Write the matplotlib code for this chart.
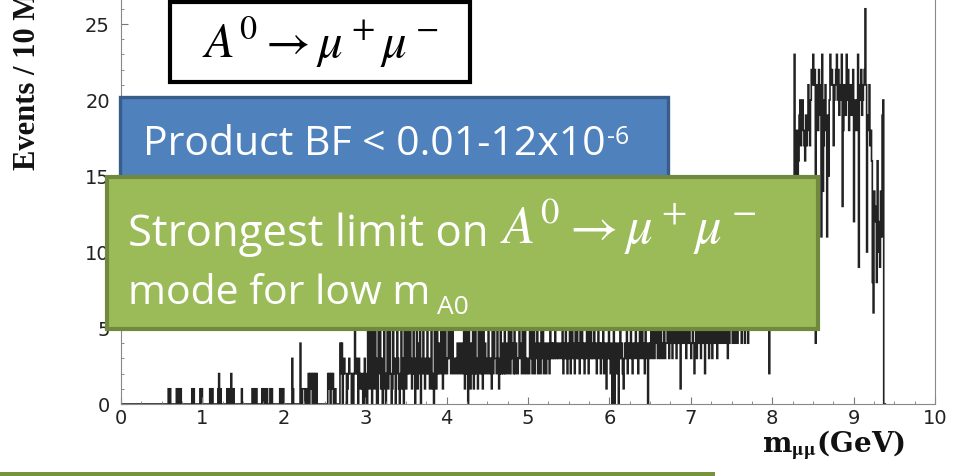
import numpy as np
import matplotlib
matplotlib.use("Agg")
import matplotlib.pyplot as plt
from matplotlib.patches import Rectangle
from matplotlib.text import Annotation
from matplotlib.ticker import MultipleLocator

# events per 10 MeV bin, one row = 100 MeV, first row starts at 0.0 GeV
events_rows = [
    [0, 0, 0, 0, 0, 0, 0, 0, 0, 0],   # 0.0
    [0, 0, 0, 0, 0, 0, 0, 0, 0, 0],
    [0, 0, 0, 0, 0, 0, 0, 0, 0, 0],
    [0, 0, 0, 0, 0, 0, 0, 0, 0, 0],
    [0, 0, 0, 0, 0, 0, 0, 0, 0, 0],
    [0, 0, 0, 0, 0, 0, 0, 0, 1, 0],   # 0.5
    [1, 0, 0, 0, 0, 0, 0, 0, 1, 1],
    [0, 1, 0, 1, 0, 0, 0, 0, 0, 0],
    [0, 0, 0, 0, 0, 0, 0, 1, 0, 1],
    [0, 0, 0, 0, 0, 0, 0, 1, 0, 1],
    [0, 0, 0, 0, 0, 0, 0, 0, 0, 1],   # 1.0
    [1, 0, 1, 0, 0, 0, 0, 0, 0, 1],
    [2, 0, 1, 0, 0, 0, 0, 0, 0, 0],
    [1, 0, 1, 0, 0, 2, 0, 1, 1, 0],
    [0, 0, 0, 0, 0, 0, 0, 0, 1, 0],
    [0, 0, 0, 0, 0, 0, 0, 0, 0, 0],   # 1.5
    [0, 1, 0, 1, 0, 0, 1, 0, 0, 0],
    [0, 0, 0, 1, 0, 1, 1, 0, 0, 1],
    [0, 0, 0, 1, 0, 1, 0, 0, 0, 0],
    [0, 0, 0, 0, 0, 1, 0, 1, 0, 1],
    [0, 0, 0, 0, 0, 0, 0, 0, 0, 0],   # 2.0
    [3, 1, 0, 0, 0, 0, 0, 0, 0, 0],
    [4, 0, 0, 1, 1, 1, 0, 1, 0, 0],
    [2, 0, 2, 1, 2, 0, 2, 0, 2, 0],
    [2, 0, 0, 0, 0, 0, 0, 0, 0, 0],
    [0, 0, 0, 0, 2, 1, 2, 0, 2, 1],   # 2.5
    [2, 0, 1, 1, 0, 0, 0, 0, 0, 4],
    [2, 4, 0, 2, 3, 2, 2, 0, 1, 2],
    [3, 2, 2, 0, 2, 0, 2, 6, 2, 3],
    [2, 0, 3, 2, 1, 2, 1, 0, 2, 3],
    [0, 2, 0, 5, 2, 1, 6, 2, 0, 5],   # 3.0
    [2, 1, 6, 3, 0, 0, 5, 2, 6, 1],
    [3, 0, 1, 6, 2, 0, 2, 5, 1, 2],
    [6, 2, 0, 1, 6, 2, 3, 0, 2, 6],
    [3, 1, 0, 2, 6, 1, 3, 0, 5, 2],
    [1, 5, 2, 6, 2, 6, 3, 1, 2, 5],   # 3.5
    [2, 0, 3, 6, 1, 4, 2, 5, 0, 2],
    [3, 6, 2, 1, 3, 2, 6, 2, 3, 1],
    [2, 5, 1, 2, 0, 6, 2, 1, 5, 2],
    [4, 2, 3, 6, 2, 1, 5, 2, 6, 3],
    [2, 3, 5, 3, 6, 2, 3, 6, 2, 3],   # 4.0
    [3, 2, 3, 4, 2, 3, 4, 2, 3, 4],
    [2, 6, 1, 2, 5, 2, 0, 6, 2, 1],
    [4, 2, 6, 1, 2, 5, 2, 3, 1, 6],
    [3, 2, 5, 2, 1, 6, 2, 4, 3, 2],
    [2, 6, 3, 2, 3, 1, 5, 2, 6, 3],   # 4.5
    [3, 2, 6, 3, 1, 2, 5, 2, 4, 2],
    [2, 5, 2, 4, 3, 2, 6, 3, 2, 6],
    [3, 4, 2, 6, 2, 4, 3, 2, 3, 5],
    [4, 3, 2, 5, 3, 2, 6, 3, 2, 3],
    [3, 2, 6, 3, 5, 2, 3, 6, 2, 3],   # 5.0
    [4, 6, 2, 4, 3, 2, 5, 3, 6, 2],
    [3, 4, 2, 3, 4, 3, 2, 5, 3, 4],
    [3, 4, 3, 5, 3, 3, 4, 3, 3, 4],
    [4, 3, 5, 2, 4, 3, 6, 3, 2, 4],
    [3, 6, 2, 3, 5, 4, 3, 2, 6, 3],   # 5.5
    [5, 3, 4, 2, 6, 3, 5, 4, 3, 2],
    [4, 3, 5, 4, 2, 6, 3, 5, 3, 4],
    [3, 5, 4, 3, 2, 4, 6, 3, 4, 2],
    [4, 3, 5, 2, 4, 3, 1, 4, 3, 5],
    [3, 2, 4, 0, 3, 5, 0, 4, 3, 2],   # 6.0
    [4, 0, 3, 5, 3, 4, 2, 1, 3, 4],
    [3, 5, 2, 4, 3, 4, 5, 3, 2, 4],
    [4, 3, 5, 4, 3, 2, 4, 5, 3, 4],
    [5, 3, 4, 2, 5, 4, 3, 0, 4, 3],
    [4, 5, 3, 4, 5, 3, 4, 5, 4, 3],   # 6.5
    [5, 4, 3, 5, 4, 3, 4, 5, 3, 4],
    [4, 5, 4, 3, 5, 4, 5, 3, 4, 5],
    [5, 4, 3, 5, 4, 5, 4, 1, 5, 4],
    [4, 5, 4, 5, 3, 4, 5, 4, 5, 4],
    [3, 4, 5, 4, 2, 4, 5, 3, 5, 4],   # 7.0
    [5, 4, 3, 5, 4, 5, 4, 2, 5, 4],
    [4, 5, 3, 4, 5, 4, 3, 5, 4, 5],
    [5, 4, 3, 5, 5, 4, 5, 4, 5, 5],
    [4, 5, 5, 4, 5, 3, 5, 4, 5, 5],
    [5, 4, 5, 5, 4, 5, 5, 4, 5, 5],   # 7.5
    [5, 5, 4, 5, 5, 5, 4, 5, 5, 5],
    [4, 5, 5, 5, 5, 6, 5, 5, 6, 5],
    [6, 5, 6, 5, 6, 6, 5, 6, 6, 7],
    [6, 7, 6, 7, 6, 7, 2, 6, 7, 8],
    [7, 8, 7, 8, 9, 8, 9, 8, 9, 10],  # 8.0
    [9, 10, 9, 11, 10, 11, 10, 12, 11, 12],
    [11, 12, 13, 12, 14, 13, 12, 23, 14, 16],
    [18, 15, 16, 19, 20, 17, 19, 20, 18, 17],
    [16, 19, 17, 18, 21, 19, 17, 20, 22, 21],
    [23, 21, 22, 4, 21, 20, 18, 22, 21, 19],  # 8.5
    [11, 23, 14, 17, 20, 21, 18, 11, 19, 15],
    [20, 23, 21, 22, 21, 17, 20, 21, 22, 23],
    [20, 22, 19, 21, 20, 23, 13, 18, 21, 21],
    [19, 23, 20, 22, 18, 21, 20, 19, 21, 22],
    [12, 20, 19, 18, 20, 23, 9, 21, 20, 22],  # 9.0
    [19, 20, 21, 22, 26, 21, 10, 19, 18, 21],
    [17, 18, 16, 8, 6, 14, 13, 12, 8, 16],
    [12, 10, 9, 14, 11, 19, 20, 0, 0, 0],
]
events = np.array([v for row in events_rows for v in row])
bin_edges = np.linspace(0.0, 0.01 * len(events), len(events) + 1)

x_major = 1
x_minor = 0.25
y_major = 5
y_minor = 1

y_label = "Events / 10 MeV"
x_label = r"m$_{\mathbf{\mu\mu}}$(GeV)"
decay_formula = r"$A^0 \rightarrow \mu^+\mu^-$"
bf_text = "Product BF < 0.01-12x10"
bf_exp = "-6"
limit_line1 = "Strongest limit on "
limit_line2 = "mode for low m"
limit_sub = "A0"

W, H = 961, 477
plt.rcParams["mathtext.fontset"] = "stix"


def fx(x):
    return x / W


def fy(y):
    return 1 - y / H


fig = plt.figure(figsize=(W / 100, H / 100), dpi=100)
ax = fig.add_axes([fx(121), fy(405), fx(935) - fx(121), fy(0) - fy(405)])

ax.stairs(events, bin_edges, color="#222222", lw=1.2)

ax.set_xlim(0, 10)
ax.set_ylim(0, 405 / 15.2)
ax.xaxis.set_major_locator(MultipleLocator(x_major))
ax.xaxis.set_minor_locator(MultipleLocator(x_minor))
ax.yaxis.set_major_locator(MultipleLocator(y_major))
ax.yaxis.set_minor_locator(MultipleLocator(y_minor))
ax.set_yticks([0, 5, 10, 15, 20, 25])
ax.tick_params(which="both", direction="in", colors="#777777", labelcolor="#222222",
               labelsize=14, labelfontfamily="DejaVu Sans")
ax.tick_params(which="major", length=5)
ax.tick_params(which="minor", length=2.5)
ax.tick_params(axis="x", pad=3)
ax.tick_params(axis="y", pad=8)
for s in ["left", "bottom", "right"]:
    ax.spines[s].set_color("#888888")
ax.spines["top"].set_visible(False)

fig.text(fx(28), fy(170), y_label, rotation=90, ha="center", va="bottom",
         family="Liberation Serif", weight="bold", fontsize=22, color="#111111")
fig.text(fx(762), fy(452), x_label, ha="left", va="baseline",
         family="DejaVu Serif", weight="bold", fontsize=20, color="#111111")

# slide overlays
white_box = Rectangle((fx(170), fy(83)), fx(470) - fx(170), fy(3) - fy(83),
                      transform=fig.transFigure, facecolor="white",
                      edgecolor="black", lw=3, zorder=2)
blue_box = Rectangle((fx(120), fy(180)), fx(668) - fx(120), fy(98) - fy(180),
                     transform=fig.transFigure, facecolor="#4F81BD",
                     edgecolor="#385D8A", lw=2.4, zorder=2)
green_box = Rectangle((fx(107), fy(330)), fx(818) - fx(107), fy(178) - fy(330),
                      transform=fig.transFigure, facecolor="#9BBB59",
                      edgecolor="#71893F", lw=3, zorder=2.5)
bottom_rule = Rectangle((0, 0), fx(715), 4 / H, transform=fig.transFigure,
                        facecolor="#77933C", edgecolor="none", zorder=2)
for p in [white_box, blue_box, green_box, bottom_rule]:
    fig.add_artist(p)

fig.text(fx(320), fy(58), decay_formula, ha="center", va="baseline",
         fontsize=35, color="black", zorder=3)

bf = fig.text(fx(143), fy(155), bf_text, ha="left", va="baseline",
              family="Open Sans", fontsize=29.5, color="white", zorder=3)
fig.add_artist(Annotation(bf_exp, xy=(1, 1), xycoords=bf, xytext=(1, 0),
                          textcoords="offset points", ha="left", va="top",
                          family="Open Sans", fontsize=18, color="white", zorder=3))

l1 = fig.text(fx(128), fy(246), limit_line1, ha="left", va="baseline",
              family="Open Sans", fontsize=31.5, color="white", zorder=3)
fig.add_artist(Annotation(decay_formula, xy=(1, 0), xycoords=l1, xytext=(0, 0),
                          textcoords="offset points", ha="left", va="bottom",
                          fontsize=38, color="white", zorder=3))
l2 = fig.text(fx(128), fy(304), limit_line2, ha="left", va="baseline",
              family="Open Sans", fontsize=29.5, color="white", zorder=3)
fig.add_artist(Annotation(limit_sub, xy=(1, 0), xycoords=l2, xytext=(5, 0),
                          textcoords="offset points", ha="left", va="baseline",
                          family="Open Sans", fontsize=19, color="white", zorder=3))

fig.savefig("out.png", dpi=100)
